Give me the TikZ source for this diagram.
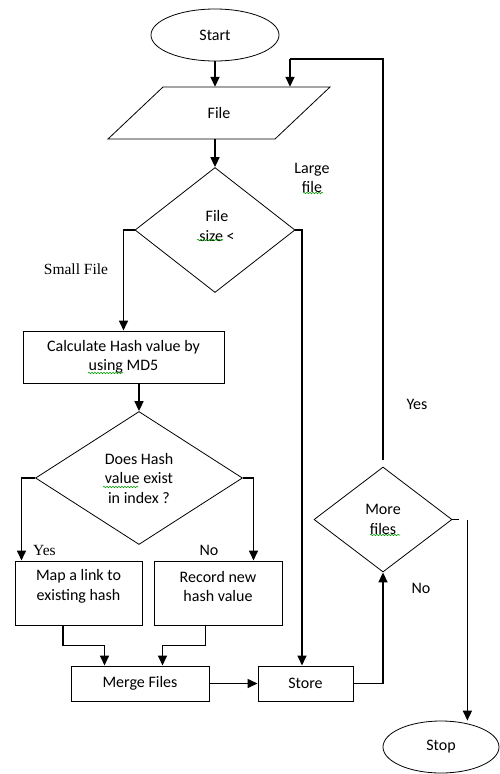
\documentclass[tikz,border=0pt]{standalone}
\usepackage{fontspec}
\setmainfont{Carlito}
\newfontfamily\serifx{Liberation Serif}
\usetikzlibrary{shapes.geometric,arrows.meta,decorations.pathmorphing,calc}
\begin{document}
\begin{tikzpicture}[x=1pt,y=-1pt,
  every node/.style={font=\fontsize{16}{19.5}\selectfont, inner sep=0pt, align=center},
  box/.style={draw, line width=1pt, rectangle},
  dia/.style={draw, line width=0.8pt, diamond},
  ell/.style={draw, line width=0.8pt, ellipse},
  arr/.style={line width=1.6pt, -{Triangle[length=10pt,width=9pt]}},
  thinln/.style={line width=1.1pt},
  seriflbl/.style={font=\serifx\fontsize{15.5}{18}\selectfont},
  sq/.style={draw=green!60!black, line width=0.6pt, decorate, decoration={snake, amplitude=0.7pt, segment length=3pt}}
]
\useasboundingbox (0,0) rectangle (500,774);

% shapes
\node[ell, minimum width=128pt, minimum height=52pt] (start) at (215,35) {Start};
\draw[line width=0.8pt] (163,87) -- (330,87) -- (275,139) -- (108,139) -- cycle;
\node[minimum width=167pt, minimum height=52pt] (file) at (219,113) {File};
\node[dia, minimum width=160pt, minimum height=125pt] (d1) at (215,230) {};
\node (d1t) at (217,226) {File\\size <};
\node[box, minimum width=201pt, minimum height=52pt] (calc) at (123.5,357) {Calculate Hash value by\\using MD5};
\node[dia, minimum width=207pt, minimum height=133pt] (d2) at (139,478) {Does Hash\\value exist\\in index ?};
\node[box, minimum width=127pt, minimum height=64pt] (map) at (78.5,593) {};
\node (mapt) at ([yshift=6.5pt]map.center) {Map a link to\\existing hash};
\node[box, minimum width=128pt, minimum height=64pt] (rec) at (218,593) {};
\node (rect) at ([yshift=6.5pt]rec.center) {Record new\\hash value};
\node[box, minimum width=138pt, minimum height=35pt] (merge) at (140,683.5) {Merge Files};
\node[box, minimum width=95pt, minimum height=35pt] (store) at (305.5,683.5) {Store};
\node[dia, minimum width=138pt, minimum height=105pt] (more) at (383,519.5) {More\\files};
\node[ell, minimum width=116pt, minimum height=52pt] (stop) at (441,747) {Stop};

% connectors
\draw[arr] (start.south) -- (start.south |- file.north);
\coordinate (loop) at (290,59);
\draw[thinln] ([yshift=7pt]more.north) -- (more.north |- loop) -- (loop);
\draw[arr] (loop) -- (loop |- file.north);
\draw[arr] (file.south -| d1.north) -- (d1.north);
\draw[arr] (d1.west) -| (calc.north);
\draw[arr] (d1.east) -| ([xshift=-3.5pt]store.north);
\draw[arr] (calc.south -| d2.north) -- (d2.north);
\draw[arr] (d2.west) -| ([xshift=7pt]map.north west);
\draw[arr] (d2.east) -| ([xshift=-29pt]rec.north east);
\draw[arr] ([xshift=48.5pt]map.south west) -- ++(0,20) -| ([xshift=34pt]merge.north west);
\draw[arr] ([xshift=52pt]rec.south west) -- ++(0,20) -| ([xshift=-47pt]merge.north east);
\draw[arr] (merge) -- (store);
\draw[arr] (store.east) -| (more.south);
\draw[thinln] (more.east) -- ++(7,0);
\coordinate (sd) at ([xshift=15pt]more.east);
\draw[arr] (sd) -- (sd |- stop.north);

% labels
\node (lg) at (312,178) {Large\\file};
\node[seriflbl] (sm) at (76,269) {Small File};
\node[seriflbl] (y1) at (44.5,550) {Yes};
\node (n1) at (209,550) {No};
\node (y2) at (417,404) {Yes};
\node (n2) at (421,588) {No};

% spell-check squiggles
\draw[sq] (303,193) -- (323,193);
\draw[sq] (197,240) -- (223,240);
\draw[sq] (103,487) -- (138,487);
\draw[sq] (88,373) -- (123,373);
\draw[sq] (370,535) -- (400,535);
\end{tikzpicture}
\end{document}
